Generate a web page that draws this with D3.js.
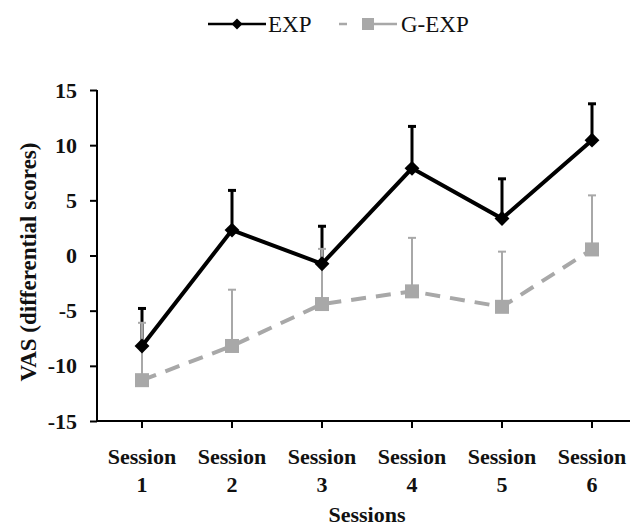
<!DOCTYPE html>
<html>
<head>
<meta charset="utf-8">
<script src="https://cdn.jsdelivr.net/npm/d3@7"></script>
<style>
  body { margin: 0; background: #fff; }
  svg { display: block; }
</style>
</head>
<body>
<script>
// data
var sessions = ["1", "2", "3", "4", "5", "6"];
var expMean = [-8.2, 2.3, -0.75, 7.9, 3.35, 10.45];
var expErr = [3.4, 3.6, 3.4, 3.8, 3.6, 3.3];
var gexpMean = [-11.3, -8.2, -4.4, -3.25, -4.65, 0.55];
var gexpErr = [5.2, 5.1, 5.0, 4.85, 5.0, 4.9];
var yTicks = [-15, -10, -5, 0, 5, 10, 15];

window.onload = drawChart();

function drawChart(){

    var width = 630,
        height = 528;

    var svg = d3.select("body")
        .append("svg")
        .attr("width", width)
        .attr("height", height);

    var x = d3.scaleBand()
        .domain(sessions)
        .range([97, 637])
        .padding(0);

    var y = d3.scaleLinear()
        .domain([-15, 15])
        .range([421, 90]);

    var cx = function(d, i){ return x(sessions[i]) + x.bandwidth() / 2; };

    var serif = "'Liberation Serif', 'Times New Roman', serif";
    var grey = "#a8a8a8";

    //y axis
    var yAxis = svg.append("g")
        .attr("transform", "translate(97,0)")
        .call(d3.axisLeft(y).tickValues(yTicks).tickSize(7).tickPadding(13)
            .tickFormat(function(d){ return String(d); }));
    yAxis.select(".domain").attr("stroke-width", 2).attr("d", "M0,90V421");
    yAxis.selectAll(".tick line").attr("stroke-width", 2);
    yAxis.selectAll("text")
        .attr("font-family", serif)
        .attr("font-weight", "bold")
        .attr("font-size", "22px")
        .attr("fill", "#111");

    //x axis
    var xAxis = svg.append("g")
        .attr("transform", "translate(0,421)")
        .call(d3.axisBottom(x).tickSize(7).tickFormat(""));
    xAxis.select(".domain").attr("stroke-width", 2).attr("d", "M97,0H637");
    xAxis.selectAll(".tick line").attr("stroke-width", 2);

    var xl = svg.append("g").selectAll("text")
        .data(sessions)
        .enter().append("text")
        .attr("text-anchor", "middle")
        .attr("font-family", serif)
        .attr("font-weight", "bold")
        .attr("font-size", "22px")
        .attr("fill", "#111");
    xl.append("tspan")
        .attr("x", function(d){ return x(d) + x.bandwidth() / 2; })
        .attr("y", 464)
        .text("Session");
    xl.append("tspan")
        .attr("x", function(d){ return x(d) + x.bandwidth() / 2; })
        .attr("y", 492)
        .text(function(d){ return d; });

    svg.append("text")
        .attr("x", 367)
        .attr("y", 522)
        .attr("text-anchor", "middle")
        .attr("font-family", serif)
        .attr("font-weight", "bold")
        .attr("font-size", "22px")
        .attr("fill", "#111")
        .text("Sessions");

    svg.append("text")
        .attr("transform", "translate(36,262) rotate(-90)")
        .attr("text-anchor", "middle")
        .attr("font-family", serif)
        .attr("font-weight", "bold")
        .attr("font-size", "23px")
        .attr("fill", "#111")
        .text("VAS (differential scores)");

    //error bars, upper only
    function errBars(mean, err, color, w){
        var g = svg.append("g").attr("stroke", color).attr("stroke-width", w);
        g.selectAll(".bar")
            .data(mean)
            .enter().append("line")
            .attr("x1", cx).attr("x2", cx)
            .attr("y1", function(d){ return y(d); })
            .attr("y2", function(d, i){ return y(d + err[i]); });
        g.selectAll(".cap")
            .data(mean)
            .enter().append("line")
            .attr("x1", function(d, i){ return cx(d, i) - 4; })
            .attr("x2", function(d, i){ return cx(d, i) + 4; })
            .attr("y1", function(d, i){ return y(d + err[i]); })
            .attr("y2", function(d, i){ return y(d + err[i]); });
    }

    errBars(expMean, expErr, "#000", 3);
    errBars(gexpMean, gexpErr, grey, 2);

    var line = d3.line()
        .x(cx)
        .y(function(d){ return y(d); });

    //G-EXP
    svg.append("path")
        .datum(gexpMean)
        .attr("fill", "none")
        .attr("stroke", grey)
        .attr("stroke-width", 4)
        .attr("stroke-dasharray", "15,10")
        .attr("d", line);

    svg.append("g").selectAll("rect")
        .data(gexpMean)
        .enter().append("rect")
        .attr("x", function(d, i){ return cx(d, i) - 7; })
        .attr("y", function(d){ return y(d) - 7; })
        .attr("width", 14)
        .attr("height", 14)
        .attr("fill", grey);

    //EXP
    svg.append("path")
        .datum(expMean)
        .attr("fill", "none")
        .attr("stroke", "#000")
        .attr("stroke-width", 4)
        .attr("d", line);

    var diamond = d3.symbol().type(d3.symbolSquare).size(110);

    svg.append("g").selectAll("path")
        .data(expMean)
        .enter().append("path")
        .attr("d", diamond)
        .attr("transform", function(d, i){ return "translate(" + cx(d, i) + "," + y(d) + ") rotate(45)"; })
        .attr("fill", "#000");

    //legend
    var leg = svg.append("g");
    leg.append("line")
        .attr("x1", 208).attr("x2", 266)
        .attr("y1", 24).attr("y2", 24)
        .attr("stroke", "#000").attr("stroke-width", 2.5);
    leg.append("path")
        .attr("d", d3.symbol().type(d3.symbolSquare).size(60))
        .attr("transform", "translate(237,24) rotate(45)")
        .attr("fill", "#000");
    leg.append("text")
        .attr("x", 268).attr("y", 32)
        .attr("font-family", serif)
        .attr("font-size", "23px")
        .attr("fill", "#111")
        .text("EXP");

    leg.append("line")
        .attr("x1", 339).attr("x2", 397)
        .attr("y1", 24).attr("y2", 24)
        .attr("stroke", grey).attr("stroke-width", 2.5)
        .attr("stroke-dasharray", "8,15,35,15");
    leg.append("rect")
        .attr("x", 362).attr("y", 18)
        .attr("width", 12).attr("height", 12)
        .attr("fill", grey);
    leg.append("text")
        .attr("x", 401).attr("y", 32)
        .attr("font-family", serif)
        .attr("font-size", "23px")
        .attr("fill", "#111")
        .text("G-EXP");
}
</script>
</body>
</html>
